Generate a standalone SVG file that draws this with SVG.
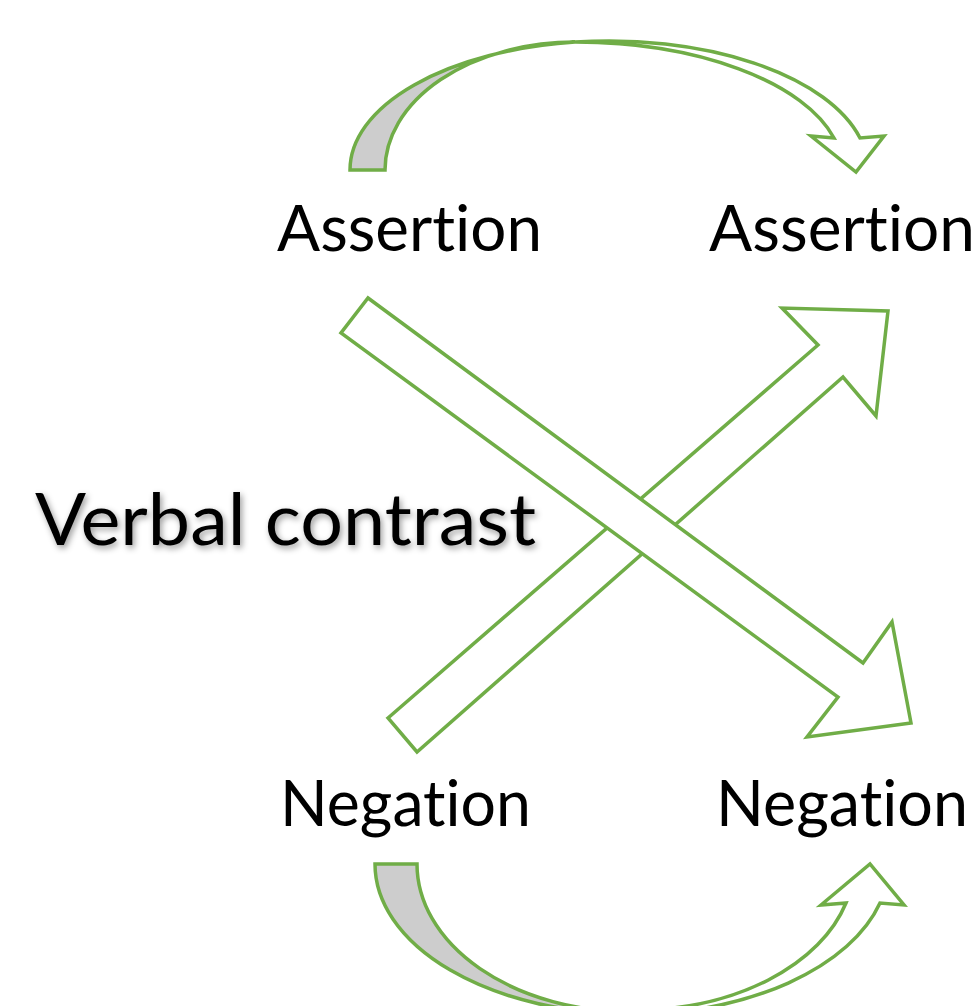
<svg xmlns="http://www.w3.org/2000/svg" width="978" height="1006" viewBox="0 0 978 1006">
  <defs>
    <style>
      .shape { stroke: #70AD47; stroke-width: 3.5; stroke-linejoin: miter; }
      .front { fill: #FFFFFF; }
      .back { fill: #CDCDCD; }
      .lbl { font-family: Lato, "Open Sans", "Liberation Sans", sans-serif; font-size: 64px; fill: #000000; font-variant-ligatures: none; font-feature-settings: "liga" 0, "clig" 0; }
      .title { font-family: Lato, "Open Sans", "Liberation Sans", sans-serif; font-size: 72px; fill: #000000; font-variant-ligatures: none; font-feature-settings: "liga" 0, "clig" 0; }
    </style>
    <filter id="shadow" x="-10%" y="-30%" width="120%" height="160%">
      <feDropShadow dx="2" dy="3" stdDeviation="3" flood-color="#000000" flood-opacity="0.4"/>
    </filter>
  </defs>
  <rect width="978" height="1006" fill="#FFFFFF"/>

  <g id="connectors">
    <g id="arc-top">
      <path class="shape back" d="M350,170 A259,129 0 0 1 575,42.1 A190,128 0 0 0 385,170 Z"/>
      <path class="shape front" d="M575,42.1 A259,129 0 0 1 860,138 L884,136 L856,172 L811,136 L834,138 A267.5,128 0 0 0 575,42.1 Z"/>
    </g>
    <g id="arc-bottom">
      <path class="shape back" d="M375,864 A257,150 0 0 0 632,1014 L632,1012 A215,148 0 0 1 417,864 Z"/>
      <path class="shape front" d="M632,1014 A257,150 0 0 0 880,903 L904,905 L870,864 L821,905 L846,903 A218,146 0 0 1 636,1010 Z"/>
    </g>
    <polygon id="arrow-up-right" class="shape front" points="388,718 818,345 782,308 888,311 876,416 843,377 417,752"/>
    <polygon id="arrow-down-right" class="shape front" points="368,298 863,663 892,622 911,723 807,737 838,697 341,333"/>
  </g>

  <g id="node-assertion-left">
    <text class="lbl" x="277" y="251" textLength="265" lengthAdjust="spacingAndGlyphs">Assertion</text>
  </g>
  <g id="node-assertion-right">
    <text class="lbl" x="709" y="251" textLength="266" lengthAdjust="spacingAndGlyphs">Assertion</text>
  </g>
  <g id="node-negation-left">
    <text class="lbl" x="280" y="826" textLength="251" lengthAdjust="spacingAndGlyphs">Negation</text>
  </g>
  <g id="node-negation-right">
    <text class="lbl" x="716" y="826" textLength="252" lengthAdjust="spacingAndGlyphs">Negation</text>
  </g>
  <g id="label-verbal-contrast">
    <text class="title" x="35" y="545" textLength="501" lengthAdjust="spacingAndGlyphs" filter="url(#shadow)">Verbal contrast</text>
  </g>
</svg>
